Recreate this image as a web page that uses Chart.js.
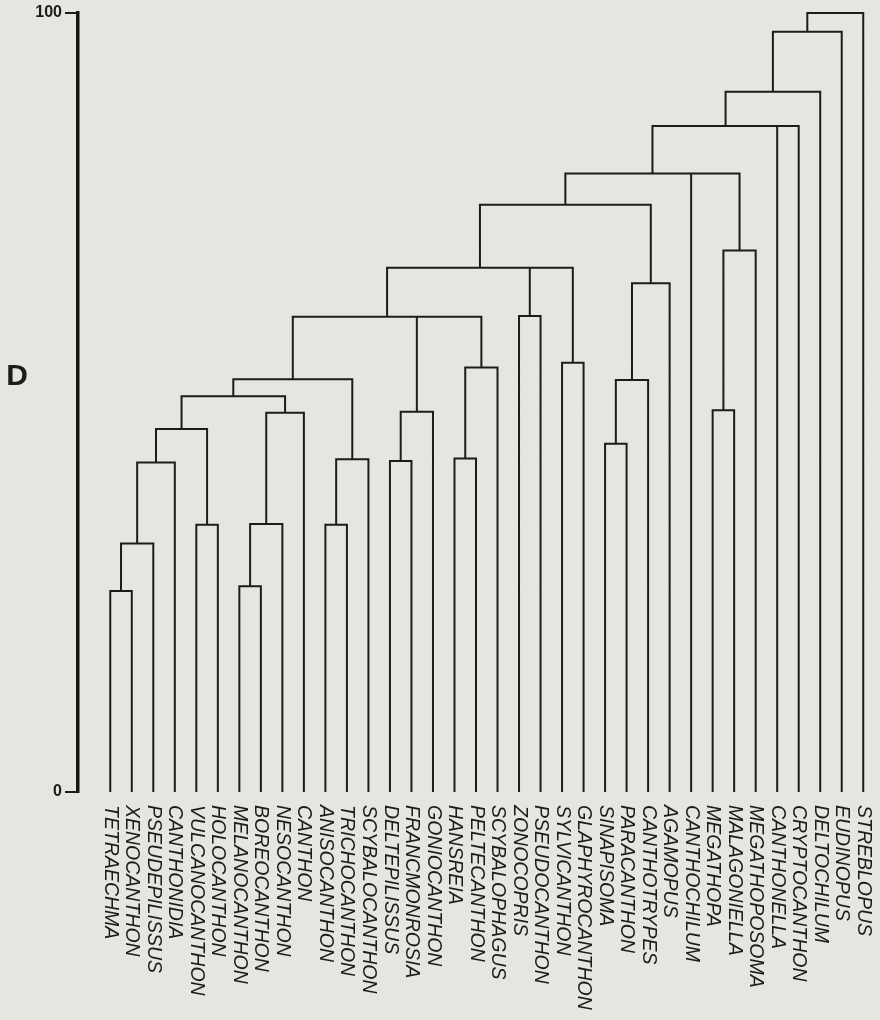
<!DOCTYPE html>
<html>
<head>
<meta charset="utf-8">
<script src="https://cdn.jsdelivr.net/npm/chart.js@4.4.1/dist/chart.umd.min.js"></script>
<style>
  html, body { margin: 0; padding: 0; background: #e7e5df; }
  canvas { display: block; }
</style>
</head>
<body>
<canvas id="dendro" width="880" height="1020"></canvas>
<script>
// Genera, in order along the base of the tree
const genera = [
  'TETRAECHMA', 'XENOCANTHON', 'PSEUDEPILISSUS', 'CANTHONIDIA', 'VULCANOCANTHON',
  'HOLOCANTHON', 'MELANOCANTHON', 'BOREOCANTHON', 'NESOCANTHON', 'CANTHON',
  'ANISOCANTHON', 'TRICHOCANTHON', 'SCYBALOCANTHON', 'DELTEPILISSUS', 'FRANCMONROSIA',
  'GONIOCANTHON', 'HANSREIA', 'PELTECANTHON', 'SCYBALOPHAGUS', 'ZONOCOPRIS',
  'PSEUDOCANTHON', 'SYLVICANTHON', 'GLAPHYROCANTHON', 'SINAPISOMA', 'PARACANTHON',
  'CANTHOTRYPES', 'AGAMOPUS', 'CANTHOCHILUM', 'MEGATHOPA', 'MALAGONIELLA',
  'MEGATHOPOSOMA', 'CANTHONELLA', 'CRYPTOCANTHON', 'DELTOCHILUM', 'EUDINOPUS',
  'STREBLOPUS'
];

// Members of each cluster: a genus index (0-35) or 36 + the index of an earlier cluster
const clusterMembers = [
  [0, 1], [36, 2], [37, 3], [4, 5], [38, 39],
  [6, 7], [41, 8], [42, 9], [40, 43], [10, 11],
  [45, 12], [44, 46], [13, 14], [48, 15], [16, 17],
  [50, 18], [47, 49, 51], [19, 20], [21, 22], [52, 53, 54],
  [23, 24], [56, 25], [57, 26], [55, 58], [28, 29],
  [60, 30], [59, 27, 61], [62, 31, 32], [63, 33], [64, 34],
  [65, 35]
];

// Level D at which each cluster is joined
const clusterLevels = [
  25.8, 31.9, 42.3, 34.3, 46.6,
  26.4, 34.4, 48.7, 50.8, 34.3,
  42.7, 53.0, 42.5, 48.8, 42.8,
  54.5, 61.0, 61.1, 55.1, 67.3,
  44.7, 52.9, 65.3, 75.4, 49.0,
  69.5, 79.4, 85.5, 89.9, 97.6,
  100.0
];

const axisTicks = [0, 100];
const axisTitle = 'D';

// Build the bracket paths in data units (x = genus slot, y = level D)
const place = genera.map((_, i) => i);
const level = genera.map(() => 0);
const treePoints = [];
clusterMembers.forEach((members, k) => {
  const L = clusterLevels[k];
  const ordered = members.slice().sort((a, b) => place[a] - place[b]);
  const first = ordered[0];
  const last = ordered[ordered.length - 1];
  treePoints.push(
    { x: place[first], y: level[first] },
    { x: place[first], y: L },
    { x: place[last], y: L },
    { x: place[last], y: level[last] },
    { x: place[last], y: null }
  );
  ordered.slice(1, -1).forEach(m => {
    treePoints.push({ x: place[m], y: level[m] }, { x: place[m], y: L }, { x: place[m], y: null });
  });
  const id = genera.length + k;
  place[id] = (place[first] + place[last]) / 2;
  level[id] = L;
});

const INK = '#1c1c1c';
const PAPER = '#e7e5df';
const FAMILY = '"Liberation Sans", Arial, Helvetica, sans-serif';

const paperPlugin = {
  id: 'paper',
  beforeDraw(chart) {
    const { ctx, width, height } = chart;
    ctx.save();
    ctx.fillStyle = PAPER;
    ctx.fillRect(0, 0, width, height);
    ctx.restore();
  }
};

// Genus names hang below each branch, reading downwards
const generaLabels = {
  id: 'generaLabels',
  afterDraw(chart) {
    const { ctx } = chart;
    const xs = chart.scales.x, ys = chart.scales.y;
    const base = ys.getPixelForValue(0) + 13;
    ctx.save();
    ctx.fillStyle = INK;
    ctx.font = 'italic 19.5px ' + FAMILY;
    ctx.textAlign = 'left';
    ctx.textBaseline = 'middle';
    genera.forEach((name, i) => {
      ctx.save();
      ctx.translate(xs.getPixelForValue(i), base);
      ctx.rotate(Math.PI / 2);
      ctx.fillText(name, 0, 0);
      ctx.restore();
    });
    // upright axis title
    ctx.font = 'bold 30px ' + FAMILY;
    ctx.textAlign = 'center';
    ctx.fillText(axisTitle, 17, 377);
    ctx.restore();
  }
};

new Chart(document.getElementById('dendro'), {
  type: 'line',
  data: {
    datasets: [{
      data: treePoints,
      borderColor: INK,
      borderWidth: 2,
      pointRadius: 0,
      pointHoverRadius: 0,
      tension: 0,
      spanGaps: false,
      fill: false,
      clip: false,
      borderJoinStyle: 'miter',
      borderCapStyle: 'butt'
    }]
  },
  options: {
    responsive: false,
    animation: false,
    devicePixelRatio: 1,
    events: [],
    layout: { padding: { top: 13, bottom: 228, left: 0, right: 6 } },
    plugins: { legend: { display: false }, tooltip: { enabled: false } },
    scales: {
      x: { type: 'linear', min: -1.5, max: genera.length - 0.5, display: false },
      y: {
        type: 'linear',
        position: 'left',
        min: 0,
        max: 100,
        afterBuildTicks(scale) { scale.ticks = axisTicks.map(v => ({ value: v })); },
        afterFit(scale) { scale.width = 78; },
        ticks: {
          color: INK,
          padding: 3,
          font: { family: FAMILY, size: 16, weight: 'bold' }
        },
        grid: {
          drawOnChartArea: false,
          drawTicks: true,
          tickLength: 13,
          color: INK,
          lineWidth: 2
        },
        border: { display: true, color: '#151515', width: 3.5 }
      }
    }
  },
  plugins: [paperPlugin, generaLabels]
});
</script>
</body>
</html>
